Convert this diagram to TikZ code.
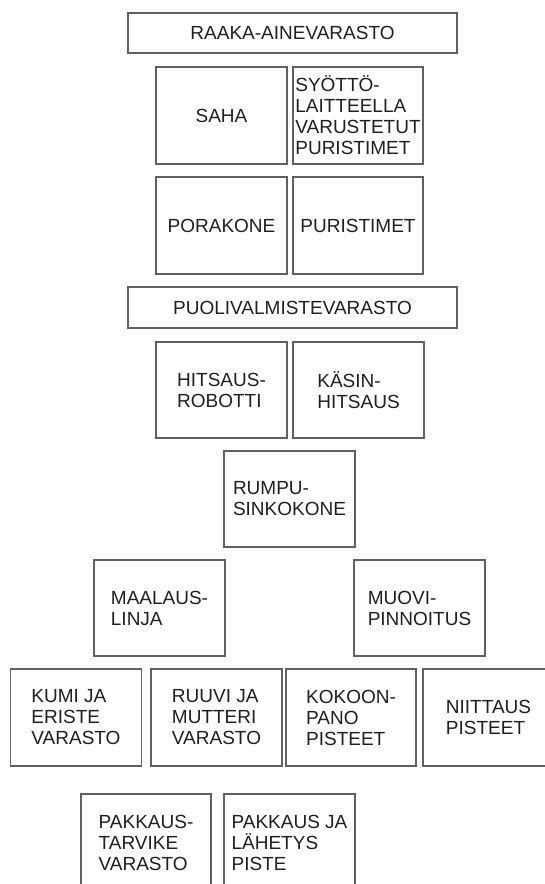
\documentclass[tikz,border=0pt]{standalone}
\usepackage{fontspec}
\setmainfont{Liberation Sans}
\begin{document}
\begin{tikzpicture}[x=1pt,y=-1pt,
  every node/.style={font=\fontsize{19}{21}\selectfont, text=black!88},
  box/.style={draw=black!62, line width=1.3pt, align=left, inner sep=0pt,
              minimum width=131pt, minimum height=97pt},
  wide/.style={draw=black!62, line width=1.3pt, inner sep=0pt,
              minimum width=329pt, minimum height=40pt}]
\useasboundingbox (0,0) rectangle (544,884);
% storage and first machining stage
\node[wide] (raaka) at (292.5,33) {RAAKA-AINEVARASTO};
\node[box] (saha) at (221.5,115.5) {SAHA};
\node[box, minimum width=130pt] (syotto) at (358,115.5) {SYÖTTÖ-\\LAITTEELLA\\VARUSTETUT\\PURISTIMET};
\node[box] (pora) at (221.5,225.5) {PORAKONE};
\node[box, minimum width=130pt] (puris) at (358,225.5) {PURISTIMET};
\node[wide, minimum height=41pt] (puoli) at (292.5,307.5) {PUOLIVALMISTEVARASTO};
% welding and surface treatment
\node[box, minimum height=96pt] (hits) at (221.5,390) {HITSAUS-\\ROBOTTI};
\node[box, minimum height=96pt] (kasin) at (358.5,390) {KÄSIN-\\HITSAUS};
\node[box, minimum height=96pt] (rumpu) at (289.5,499) {RUMPU-\\SINKOKONE};
\node[box, minimum height=96pt] (maal) at (159.5,608) {MAALAUS-\\LINJA};
\node[box, minimum height=96pt] (muovi) at (419.5,608) {MUOVI-\\PINNOITUS};
% assembly row
\node[box] (kumi) at (76,717.5) {KUMI JA\\ERISTE\\VARASTO};
\node[box] (ruuvi) at (216.5,717.5) {RUUVI JA\\MUTTERI\\VARASTO};
\node[box, minimum width=130pt] (kokoon) at (351,717.5) {KOKOON-\\PANO\\PISTEET};
\node[box] (niit) at (488.5,717.5) {NIITTAUS\\PISTEET};
% packing and dispatch
\node[box, minimum width=130pt] (pakt) at (146,842.5) {PAKKAUS-\\TARVIKE\\VARASTO};
\node[box] (pakl) at (289.5,842.5) {PAKKAUS JA\\LÄHETYS\\PISTE};
\end{tikzpicture}
\end{document}
